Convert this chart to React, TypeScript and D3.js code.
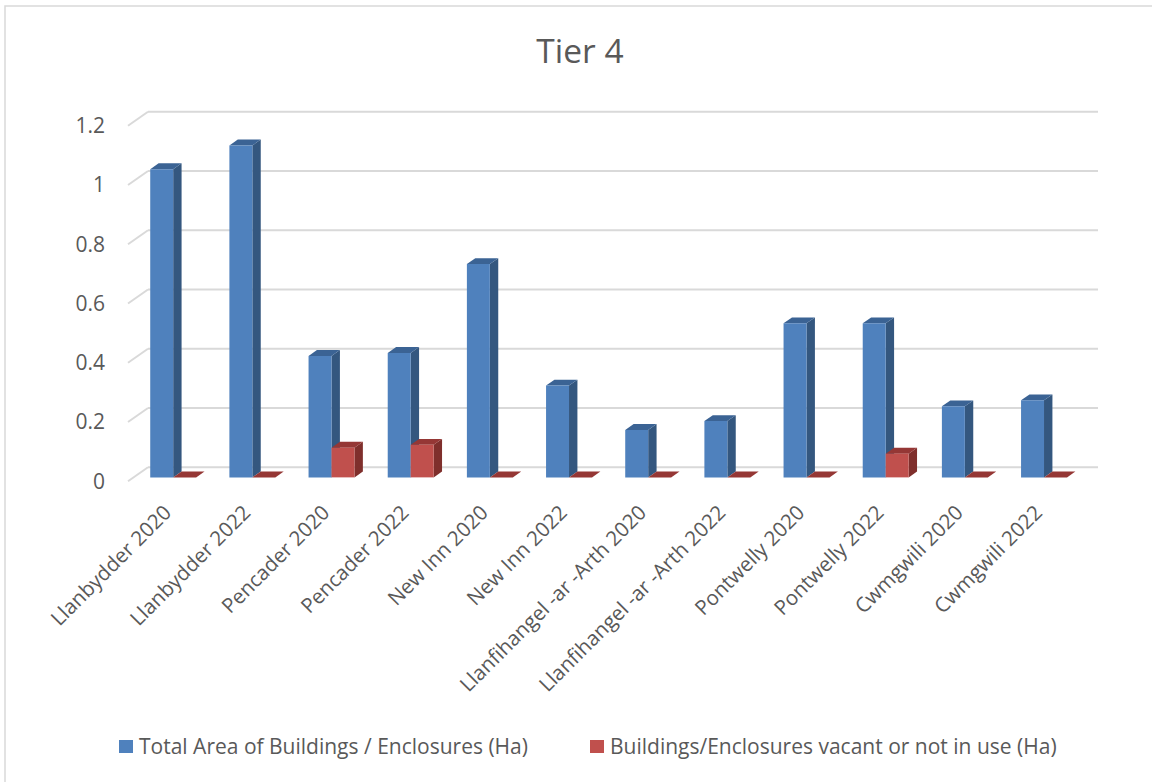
import * as d3 from 'd3'

const categories = [
  'Llanbydder 2020',
  'Llanbydder 2022',
  'Pencader 2020',
  'Pencader 2022',
  'New Inn 2020',
  'New Inn 2022',
  'Llanfihangel -ar -Arth 2020',
  'Llanfihangel -ar -Arth 2022',
  'Pontwelly 2020',
  'Pontwelly 2022',
  'Cwmgwili 2020',
  'Cwmgwili 2022',
]

const totalArea = [1.04, 1.12, 0.41, 0.42, 0.72, 0.31, 0.16, 0.19, 0.52, 0.52, 0.24, 0.26]
const vacantArea = [0, 0, 0.1, 0.11, 0, 0, 0, 0, 0, 0.08, 0, 0]

const seriesNames = [
  'Total Area of Buildings / Enclosures (Ha)',
  'Buildings/Enclosures vacant or not in use (Ha)',
]

const yTicks = [0, 0.2, 0.4, 0.6, 0.8, 1, 1.2]

const palette = [
  { front: '#4f81bd', side: '#34577f', top: '#3b6394' },
  { front: '#c0504d', side: '#7f2f2c', top: '#953735' },
]

const FONT = '"Open Sans", "Noto Sans", sans-serif'
const TEXT = '#595959'
const GRID = '#d9d9d9'

// oblique depth offset from back wall to front edge of the floor
const DX = -20
const DY = 14
const Z_BACK = 0.3
const Z_FRONT = 0.72

export default function App() {
  const width = 1152
  const height = 782

  const x = d3
    .scaleBand<string>()
    .domain(categories)
    .range([148, 1098])
    .paddingInner(0.42)
    .paddingOuter(0.21)

  const sub = d3
    .scaleBand<number>()
    .domain([0, 1])
    .range([0, x.bandwidth()])

  const y = d3.scaleLinear().domain([0, 1.2]).range([467.3, 111.7])

  const proj = (px: number, v: number, z: number): [number, number] => [px + DX * z, y(v) + DY * z]
  const poly = (pts: [number, number][]) => pts.map((p) => p.join(',')).join(' ')

  const series = [totalArea, vacantArea]

  const bars: JSX.Element[] = []
  categories.forEach((c, i) => {
    series.forEach((vals, s) => {
      const v = vals[i]
      const x0 = (x(c) as number) + (sub(s) as number)
      const x1 = x0 + sub.bandwidth()
      const col = palette[s]
      const key = `${i}-${s}`
      if (v <= 0) {
        bars.push(
          <polygon
            key={key}
            points={poly([proj(x0, 0, Z_FRONT), proj(x1, 0, Z_FRONT), proj(x1, 0, Z_BACK), proj(x0, 0, Z_BACK)])}
            fill={col.top}
          />,
        )
        return
      }
      bars.push(
        <g key={key}>
          <polygon
            points={poly([proj(x1, 0, Z_FRONT), proj(x1, 0, Z_BACK), proj(x1, v, Z_BACK), proj(x1, v, Z_FRONT)])}
            fill={col.side}
          />
          <polygon
            points={poly([proj(x0, v, Z_FRONT), proj(x1, v, Z_FRONT), proj(x1, v, Z_BACK), proj(x0, v, Z_BACK)])}
            fill={col.top}
          />
          <polygon
            points={poly([proj(x0, 0, Z_FRONT), proj(x1, 0, Z_FRONT), proj(x1, v, Z_FRONT), proj(x0, v, Z_FRONT)])}
            fill={col.front}
          />
        </g>,
      )
    })
  })

  return (
    <svg
      width={width}
      height={height}
      style={{ position: 'absolute', left: 0, top: 0, background: '#fff' }}
      fontFamily={FONT}
    >
      <rect x={5} y={6} width={width + 20} height={height + 20} fill="#fff" stroke={GRID} strokeWidth={1.5} />

      <text x={580} y={63} textAnchor="middle" fontSize={33.5} fill={TEXT}>
        Tier 4
      </text>

      {/* grid: back wall lines plus the diagonal floor-side ticks */}
      <g stroke={GRID} strokeWidth={2} fill="none">
        {yTicks.map((t) => (
          <g key={t}>
            <line x1={148} x2={1098} y1={y(t)} y2={y(t)} />
            <line x1={148} y1={y(t)} x2={148 + DX} y2={y(t) + DY} />
          </g>
        ))}
      </g>

      <g fontSize={21} fill={TEXT} textAnchor="end">
        {yTicks.map((t) => (
          <text key={t} x={105} y={y(t) + DY} dy="0.35em">
            {d3.format('~g')(t)}
          </text>
        ))}
      </g>

      {bars}

      <g fontSize={20.5} fill={TEXT} textAnchor="end">
        {categories.map((c) => {
          const cx = (x(c) as number) + x.bandwidth() / 2 + DX + 5
          const cy = 514
          return (
            <text key={c} transform={`translate(${cx},${cy}) rotate(-45)`}>
              {c}
            </text>
          )
        })}
      </g>

      <g fontSize={21} fill={TEXT}>
        {seriesNames.map((n, i) => {
          const lx = i === 0 ? 119 : 590
          return (
            <g key={n}>
              <rect x={lx} y={740} width={14} height={13} fill={palette[i].front} />
              <text x={lx + 20} y={754}>
                {n}
              </text>
            </g>
          )
        })}
      </g>
    </svg>
  )
}
